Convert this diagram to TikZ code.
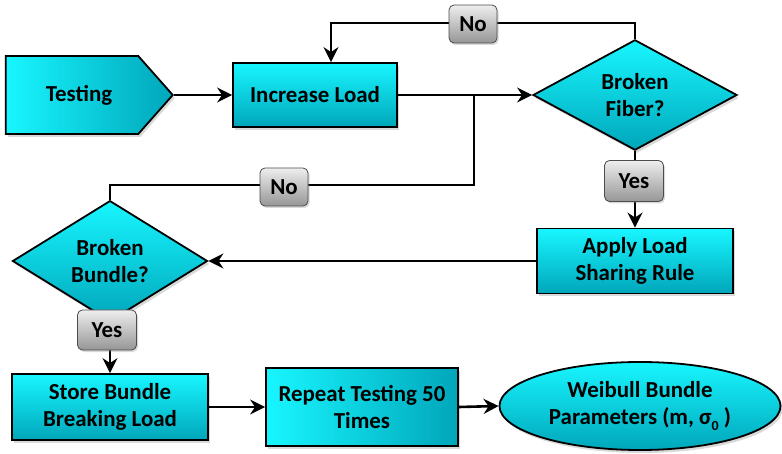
\documentclass[tikz,border=0pt]{standalone}
\usepackage{fontspec}
\setmainfont{Carlito}
\usetikzlibrary{shapes.geometric,shapes.symbols,shadows,arrows.meta}
\definecolor{ctop}{RGB}{24,246,255}
\definecolor{cbot}{RGB}{0,166,186}
\definecolor{gtop}{RGB}{238,238,238}
\definecolor{gbot}{RGB}{150,150,150}
\tikzset{
  txt/.style={font=\bfseries\fontsize{23}{27}\selectfont, align=center, text=black},
  base/.style={txt, draw=black, line width=1.8bp, inner sep=0pt,
    drop shadow={opacity=0.3, shadow xshift=2bp, shadow yshift=-3bp}},
  vshade/.style={top color=ctop, bottom color=cbot},
  hshade/.style={left color=ctop, right color=cbot},
  procbox/.style={base, vshade, rectangle},
  decide/.style={base, vshade, diamond},
  tag/.style={txt, draw=black!70, line width=0.8bp, rounded corners=5bp,
    top color=gtop, bottom color=gbot, minimum width=48bp, minimum height=38bp, inner sep=0pt,
    drop shadow={opacity=0.3, shadow xshift=1.5bp, shadow yshift=-2bp}},
  conn/.style={line width=2.6bp, draw=black},
  arr/.style={conn, -{Stealth[length=15bp,width=15bp,inset=5bp]}}
}
\begin{document}
\begin{tikzpicture}[x=1bp,y=-1bp]
\useasboundingbox (0,0) rectangle (782,454);
% nodes
\node[base, hshade, signal, signal to=east, signal pointer angle=97,
      minimum width=167bp, minimum height=78bp] (testing) at (72,95) {\hspace*{14bp}Testing};
\node[procbox, minimum width=164bp, minimum height=64bp] (inc) at (315,95) {Increase Load};
\node[decide, minimum width=204bp, minimum height=104bp] (fiber) at (635,95) {Broken\\Fiber?};
\node[procbox, minimum width=196bp, minimum height=65bp] (apply) at (635,261) {Apply Load\\Sharing Rule};
\node[decide, minimum width=195bp, minimum height=84bp] (bundle) at (110,261) {Broken\\Bundle?};
\node[procbox, minimum width=196bp, minimum height=66bp] (store) at (110,407) {Store Bundle\\Breaking Load};
\node[base, hshade, rectangle, minimum width=192bp, minimum height=78bp] (repeat) at (362,407) {Repeat Testing 50\\Times};
\node[base, vshade, ellipse, minimum width=281bp, minimum height=88bp] (weibull) at (640,406)
  {Weibull Bundle\\Parameters (m, σ\raisebox{-0.28em}{\fontsize{14}{14}\selectfont 0}\ )};
% coordinates
\coordinate (j1) at (474,95);
\coordinate (topy) at (0,23);
\coordinate (midy) at (0,185);
\coordinate (incin) at (331,0);
% connectors
\draw[arr] (testing.east) -- (inc.west);
\draw[arr] (inc.east) -- (fiber.west);
\draw[arr] (fiber.north) -- (fiber.north |- topy) -- (incin |- topy) -- (incin |- inc.north);
\draw[conn] (j1) -- (j1 |- midy) -- (bundle.north |- midy) -- (bundle.north);
\draw[arr] (fiber.south) -- (apply.north);
\draw[arr] (apply.west) -- (bundle.east);
\draw[arr] (bundle.south) -- (store.north);
\draw[arr] (store.east) -- (repeat.west);
\draw[arr] (repeat.east) -- (weibull.west);
% labels
\node[tag] (no1) at (473,24) {No};
\node[tag] (no2) at (284,187) {No};
\node[tag, minimum width=59bp, minimum height=41bp] (yes1) at (634,181) {Yes};
\node[tag, minimum width=59bp, minimum height=40bp] (yes2) at (107,330) {Yes};
\end{tikzpicture}
\end{document}
